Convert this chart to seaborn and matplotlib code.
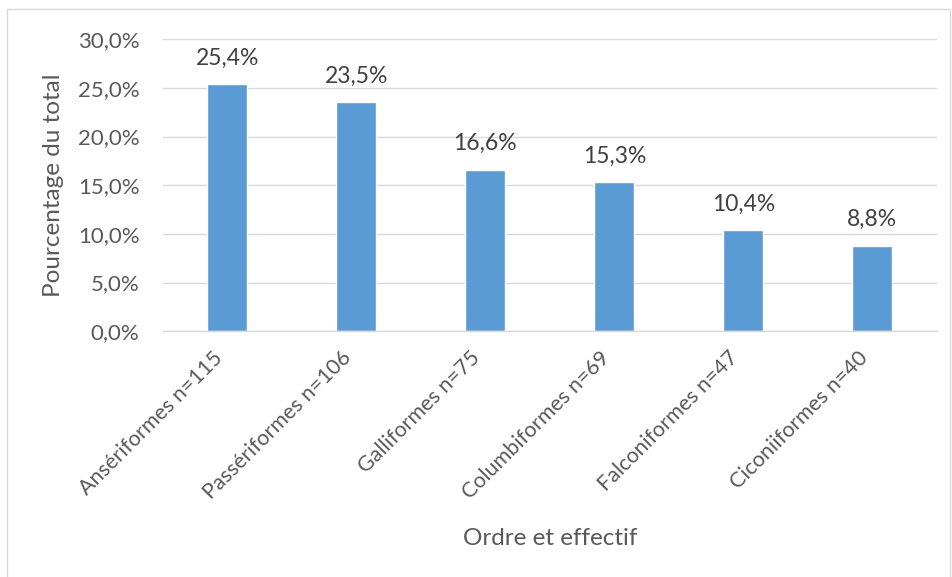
import matplotlib
matplotlib.use('Agg')
import matplotlib.pyplot as plt
import matplotlib.transforms as mtransforms
import seaborn as sns
import pandas as pd
from matplotlib.ticker import FuncFormatter
from matplotlib.patches import Rectangle

# données
ordres = ['Ansériformes n=115', 'Passériformes n=106', 'Galliformes n=75',
          'Columbiformes n=69', 'Falconiformes n=47', 'Ciconiiformes n=40']
pourcentages = [25.4, 23.5, 16.6, 15.3, 10.4, 8.8]

df = pd.DataFrame({'ordre': ordres, 'pct': pourcentages})

sns.set_theme(style='white')
plt.rcParams['font.family'] = ['Lato', 'DejaVu Sans']
gris = '#595959'

fig = plt.figure(figsize=(9.53, 5.77), dpi=100)
ax = fig.add_axes([0.171, 0.426, 0.812, 0.506])

sns.barplot(data=df, x='ordre', y='pct', color='#5B9BD5', width=0.31,
            saturation=1, ax=ax)

ax.set_ylim(0, 30)
ax.set_yticks([0, 5, 10, 15, 20, 25, 30])
ax.yaxis.set_major_formatter(FuncFormatter(lambda v, p: f'{v:.1f}%'.replace('.', ',')))
ax.grid(axis='y', color='#d9d9d9', linewidth=1)
ax.set_axisbelow(True)
for s in ['left', 'right', 'top']:
    ax.spines[s].set_visible(False)
ax.spines['bottom'].set_color('#d9d9d9')
ax.spines['bottom'].set_linewidth(1)
ax.tick_params(axis='y', length=0, labelsize=16, colors=gris, pad=17)

ax.set_xticks(range(len(ordres)))
ax.set_xticklabels(ordres, rotation=45, ha='right', va='center',
                   rotation_mode='anchor')
ax.tick_params(axis='x', length=0, labelsize=15.5, colors=gris, pad=17)
decal = mtransforms.ScaledTranslation(-8 / 100, 0, fig.dpi_scale_trans)
for lab in ax.get_xticklabels():
    lab.set_transform(lab.get_transform() + decal)

for i, v in enumerate(pourcentages):
    ax.text(i, v + 1.6, f'{v:.1f}%'.replace('.', ','), ha='center', va='bottom',
            fontsize=16.5, color='#404040')

ax.set_xlabel('Ordre et effectif', fontsize=17.5, color=gris)
ax.set_ylabel('Pourcentage du total', fontsize=17.5, color=gris, labelpad=10)
ax.xaxis.set_label_coords(0.5, -0.675)
ax.yaxis.set_label_coords(-0.128, 0.5)

fig.patches.append(Rectangle((0.007, -0.01), 0.99, 0.995, transform=fig.transFigure,
                             fill=False, edgecolor='#d9d9d9', linewidth=1))

fig.savefig('out.png', dpi=100)
